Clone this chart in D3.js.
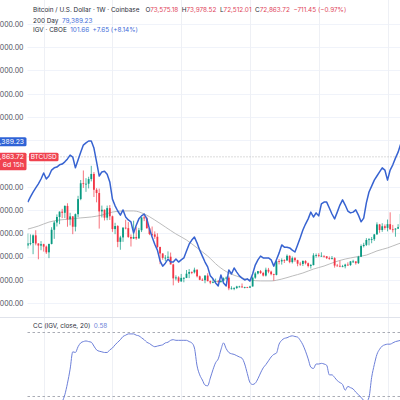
<!DOCTYPE html>
<html>
<head>
<meta charset="utf-8">
<script src="https://cdn.jsdelivr.net/npm/d3@7"></script>
<style>
  body { margin: 0; background: #fff; }
  svg { display: block; font-family: Inter, "Noto Sans", sans-serif; }
</style>
</head>
<body>
<div id="chart"></div>
<script>
// Weekly bars, first Monday 2021-05-24 .. 2024-02-05
var weeks = d3.timeMonday.range(new Date(2021, 4, 24), new Date(2024, 1, 6));

// BTCUSD weekly OHLC (Coinbase)
var btcOpen = [
  34700,35700,35800,39100,35600,34700,35300,34250,31800,35400,41500,44600,47000,49300,48800,51750,46000,47250,42800,48200,54700,61500,61300,61300,63300,65500,58700,57300,49400,50100,46700,50800,
  47300,41800,43100,36300,38200,42400,42200,38400,37700,38400,37800,41300,46800,46400,42200,39700,39500,38500,34100,31300,29400,29500,29900,26600,20600,21000,19300,20800,20800,22600,23300,23200,24300,21500,20000,19800,21800,19400,18800,19050,19400,19100,19600,20600,20900,16300,16300,16450,17100,17100,16800,16840,
  16600,17100,20900,22700,23700,22900,21800,24300,23500,22400,22100,28000,27900,28450,28300,30300,27600,29300,28400,26900,26800,28100,27100,25900,26300,30500,30600,30300,30300,30100,29300,29000,29300,26100,26000,25800,25800,26500,26300,27900,27900,27150,29900,34500,35000,37100,37400,37450,39500,43800,41400,43000,
  42300,43900,41700,41600,42000,42600];
var btcHigh = [
  39900,39500,39500,41300,35700,36600,35500,34700,35500,42600,45300,48100,49400,50500,52000,52900,48800,47400,48500,56100,62900,67000,63700,64300,69000,66300,59400,59200,51900,50200,51900,52100,
  47600,44500,43500,38900,42600,45800,44800,39500,45400,42600,42300,46900,48200,47100,42400,42900,40800,40000,34200,31400,30600,32200,31700,26900,21900,21500,22500,21100,24200,24600,23600,25200,24500,21800,20600,21900,22800,19700,20400,20500,19900,19700,21000,21400,21500,17200,16800,17400,17400,18400,17000,16950,
  17400,21400,23400,23800,24200,23400,25200,25100,23900,22600,28400,28900,29200,28800,30900,30500,30000,29800,28600,27700,28300,28400,27400,26800,31400,31300,31400,31800,30400,30100,30000,30200,29700,26800,28200,26400,26900,27500,28000,28600,27900,30300,35200,35900,37900,37900,38400,39700,44700,44000,44300,43800,
  45900,49000,43600,42200,43900,48500];
var btcLow = [
  33400,34800,31000,34800,28800,32700,32100,31100,29300,35200,37600,42900,43900,46500,46500,42800,43400,39600,40800,46900,54200,59500,57800,59300,62300,55600,53300,42000,46800,45500,45600,45700,
  40600,39600,34000,32900,36300,41700,38000,34300,37500,37200,37600,40500,45200,41900,39200,38600,37600,33700,26700,28600,28000,29300,26600,17600,19700,18600,19100,18900,20700,20700,22400,22700,21000,19800,19500,18500,19300,18100,18500,19000,18200,18700,19200,20100,15500,15800,15500,16000,16700,16500,16300,16400,
  16500,17100,20400,22300,22500,21400,21400,22800,21900,19600,21900,26600,26500,27200,28200,27100,27000,27700,25800,26000,25900,26600,25300,24800,26200,29500,29700,29900,29500,28900,28600,28700,25200,25800,25400,25400,24900,26000,26000,27200,26500,26800,29800,33900,34500,34800,35700,36700,39400,40200,40600,41500,
  40800,41500,40300,38500,41800,42300];
var btcClose = [
  35700,35800,39100,35600,34700,35300,34250,31800,35400,41500,44600,47000,49300,48800,51750,46000,47250,42800,48200,54700,61500,61300,61300,63300,65500,58700,57300,49400,50100,46700,50800,47300,
  41800,43100,36300,38200,42400,42200,38400,37700,38400,37800,41300,46800,46400,42200,39700,39500,38500,34100,31300,29400,29500,29900,26600,20600,21000,19300,20800,20800,22600,23300,23200,24300,21500,20000,19800,21800,19400,18800,19050,19400,19100,19600,20600,20900,16300,16300,16450,17100,17100,16800,16840,16600,
  17100,20900,22700,23700,22900,21800,24300,23500,22400,22100,28000,27900,28450,28300,30300,27600,29300,28400,26900,26800,28100,27100,25900,26300,30500,30600,30300,30300,30100,29300,29000,29300,26100,26000,25800,25800,26500,26300,27900,27900,27150,29900,34500,35000,37100,37400,37450,39500,43800,41400,43000,42300,
  43900,41700,41600,42000,42600,48300];

// 200 Day MA, read at every 4th bar
var maBar = [0,4,8,12,16,20,24,28,32,36,40,44,48,52,56,60,64,68,72,76,80,84,88,92,96,100,104,108,112,116,120,124,128,132,136,140,141];
var maValue = [41800,43100,44800,45700,46100,46600,47000,47800,49100,49600,49600,48300,45700,42700,39700,37100,33700,30200,25900,22900,21200,19900,19500,19500,20300,21600,22900,24600,25900,27600,28900,29800,30600,32400,33700,35400,35800];

// IGV weekly close (own overlay scale)
var igvClose = [
  71.6,73.0,74.3,75.4,76.5,77.8,79.4,77.8,78.6,80.2,80.8,81.0,81.6,81.8,82.4,83.2,84.2,83.7,80.8,82.9,
  85.0,86.9,87.5,88.0,88.0,86.1,82.4,78.6,79.7,79.9,79.1,77.0,72.4,70.6,69.2,68.1,69.5,67.6,66.8,66.3,
  63.3,65.4,67.1,67.9,68.4,67.1,64.4,62.2,60.3,58.7,55.8,54.4,55.2,56.3,55.5,55.5,56.3,55.5,56.1,56.6,
  58.5,60.3,61.4,62.2,60.6,58.7,57.1,55.5,54.2,51.8,51.0,49.9,49.1,52.0,49.9,49.1,53.4,52.3,53.9,52.8,
  51.8,51.2,50.7,51.0,50.4,52.3,54.7,56.1,57.1,56.6,56.6,56.6,56.1,54.4,56.1,57.9,60.1,59.5,59.5,59.3,
  58.7,58.2,60.1,62.0,64.1,65.7,67.1,68.9,67.6,68.7,67.9,71.1,71.6,71.6,70.0,68.4,67.1,68.9,70.8,72.2,
  70.8,69.2,68.7,68.9,69.5,68.1,66.3,67.3,71.4,74.3,75.9,77.5,78.6,79.7,80.8,80.2,77.5,80.2,81.6,83.4,
  85.0,87.2];

// CC (IGV, close, 20), starting at bar 13
var ccFirstBar = 13;
var ccValue = [
  -0.09,0.02,0.20,0.42,0.69,0.68,0.77,0.83,0.85,0.86,
  0.85,0.84,0.78,0.72,0.70,0.69,0.68,0.68,0.72,0.75,
  0.80,0.84,0.88,0.93,0.95,0.97,0.97,0.97,0.95,0.94,
  0.91,0.88,0.84,0.82,0.79,0.77,0.78,0.79,0.80,0.83,
  0.84,0.87,0.88,0.87,0.87,0.87,0.87,0.87,0.85,0.83,
  0.75,0.47,0.33,0.25,0.17,0.16,0.28,0.41,0.52,0.58,
  0.72,0.83,0.74,0.68,0.66,0.65,0.63,0.61,0.59,0.50,
  0.35,0.21,0.18,0.20,0.27,0.36,0.44,0.49,0.55,0.61,
  0.65,0.67,0.81,0.87,0.90,0.91,0.93,0.94,0.93,0.92,
  0.87,0.80,0.70,0.58,0.45,0.43,0.50,0.50,0.51,0.50,
  0.48,0.33,0.33,0.29,0.24,0.21,0.18,0.09,0.15,0.13,
  0.11,0.06,0.02,-0.02,-0.07,-0.09,-0.02,0.29,0.49,0.65,
  0.73,0.78,0.80,0.81,0.81,0.83,0.85,0.86,0.87];

// 70k and 80k sit under the price labels, so they are not shown
var priceTicks = [10000,20000,30000,40000,50000,60000,90000,100000,110000,120000,130000];
var gridTicks = [10000,20000,30000,40000,50000,60000,70000,80000,90000,100000,110000,120000,130000];
var lastClose = 72863.72;
var maLast = 79389.23;

// Sizes
var width = 400, height = 400;
var axisRight = 23.5;        // right edge of price labels
var plotLeft = 27.5;
var paneBottom = 317;
var barStep = 2.645;

var svg = d3.select("#chart").append("svg")
    .attr("width", width)
    .attr("height", height);

var defs = svg.append("defs");
defs.append("clipPath").attr("id", "mainClip")
  .append("rect").attr("x", plotLeft).attr("y", 0).attr("width", width - plotLeft).attr("height", paneBottom);
defs.append("clipPath").attr("id", "ccClip")
  .append("rect").attr("x", plotLeft).attr("y", paneBottom + 1).attr("width", width - plotLeft).attr("height", height - paneBottom);

var n = btcClose.length;
var bars = weeks.slice(0, n);

// Scales
var x = d3.scaleTime()
    .domain([bars[0], bars[n - 1]])
    .range([27.8, 27.8 + (n - 1) * barStep]);
var y = d3.scaleLinear().domain([10000, 130000]).range([303, 24]);
var yIgv = d3.scaleLinear().domain([48, 88]).range([290, 141]);
var yCc = d3.scaleLinear().domain([0, 1]).range([396, 332]);

// Grid: price levels
svg.append("g").selectAll("line")
  .data(gridTicks)
  .join("line")
    .attr("x1", plotLeft).attr("x2", width)
    .attr("y1", d => Math.round(y(d)) + 0.5).attr("y2", d => Math.round(y(d)) + 0.5)
    .attr("stroke", "#f0f3fa");

// Grid: first bar of January / July
var gridBars = bars.filter((d, i) => i > 0 && (d.getMonth() !== bars[i - 1].getMonth()) && (d.getMonth() === 0 || d.getMonth() === 6));
svg.append("g").selectAll("line")
  .data(gridBars)
  .join("line")
    .attr("x1", d => Math.round(x(d)) + 0.5).attr("x2", d => Math.round(x(d)) + 0.5)
    .attr("y1", 0).attr("y2", height)
    .attr("stroke", "#eef0f5");

// Price axis labels (left, mostly cut off by the frame)
svg.append("g")
    .attr("transform", "translate(" + axisRight + ",0)")
    .call(d3.axisLeft(y).tickValues(priceTicks).tickSize(0).tickPadding(0).tickFormat(d3.format(",.2f")))
    .call(g => g.select(".domain").remove())
    .call(g => g.selectAll("text")
        .attr("fill", "#50535e")
        .style("font-size", "7px")
        .style("font-family", "Inter, 'Noto Sans', sans-serif"));

// Main pane
var main = svg.append("g").attr("clip-path", "url(#mainClip)");

// Last price dotted line
main.append("line")
    .attr("x1", plotLeft).attr("x2", width)
    .attr("y1", y(lastClose)).attr("y2", y(lastClose))
    .attr("stroke", "#b8b8b8")
    .attr("stroke-dasharray", "1,2");

// 200 Day MA
main.append("path")
    .datum(maBar)
    .attr("fill", "none")
    .attr("stroke", "#b4b4b4")
    .attr("stroke-width", 0.9)
    .attr("d", d3.line()
        .curve(d3.curveMonotoneX)
        .x(b => x(bars[b]))
        .y((b, i) => y(maValue[i])));

// Candles
var candle = main.append("g").selectAll("g")
  .data(d3.range(n))
  .join("g")
    .attr("fill", i => btcClose[i] >= btcOpen[i] ? "#089981" : "#f23645")
    .attr("stroke", i => btcClose[i] >= btcOpen[i] ? "#089981" : "#f23645");

candle.append("line")
    .attr("x1", i => x(bars[i])).attr("x2", i => x(bars[i]))
    .attr("y1", i => y(btcHigh[i])).attr("y2", i => y(btcLow[i]))
    .attr("stroke-width", 0.7);

candle.append("rect")
    .attr("stroke", "none")
    .attr("x", i => x(bars[i]) - 0.9)
    .attr("width", 1.8)
    .attr("y", i => y(Math.max(btcOpen[i], btcClose[i])))
    .attr("height", i => Math.max(0.8, Math.abs(y(btcOpen[i]) - y(btcClose[i]))));

// IGV overlay
main.append("path")
    .datum(igvClose)
    .attr("fill", "none")
    .attr("stroke", "#3763d1")
    .attr("stroke-width", 1.5)
    .attr("stroke-linejoin", "round")
    .attr("d", d3.line()
        .x((d, i) => x(bars[i]))
        .y(d => yIgv(d)));

// Price scale labels
var maLabel = svg.append("g").attr("transform", "translate(0," + y(maLast) + ")");
maLabel.append("rect")
    .attr("x", -2).attr("y", -4.3).attr("width", plotLeft + 1).attr("height", 8.8)
    .attr("rx", 1.5)
    .attr("fill", "#2f63d6");
maLabel.append("text")
    .attr("x", axisRight + 0.5).attr("y", 2.4)
    .attr("text-anchor", "end")
    .attr("fill", "#fff")
    .style("font-size", "6.8px")
    .text(d3.format(",.2f")(maLast));

var lastLabel = svg.append("g").attr("transform", "translate(0," + y(lastClose) + ")");
lastLabel.append("rect")
    .attr("x", -2).attr("y", -4.1).attr("width", plotLeft + 1).attr("height", 17.4)
    .attr("rx", 1.5)
    .attr("fill", "#f0424f");
lastLabel.append("text")
    .attr("x", axisRight + 0.5).attr("y", 2.4)
    .attr("text-anchor", "end")
    .attr("fill", "#fff")
    .style("font-size", "6.8px")
    .text(d3.format(",.2f")(lastClose));
lastLabel.append("text")
    .attr("x", axisRight + 0.5).attr("y", 10.6)
    .attr("text-anchor", "end")
    .attr("fill", "#fff")
    .style("font-size", "6.8px")
    .text("6d 15h");
lastLabel.append("rect")
    .attr("x", 29).attr("y", -4.1).attr("width", 29.5).attr("height", 8.6)
    .attr("rx", 1.5)
    .attr("fill", "#f0424f");
lastLabel.append("text")
    .attr("x", 43.7).attr("y", 2.3)
    .attr("text-anchor", "middle")
    .attr("fill", "#fff")
    .style("font-size", "6.4px")
    .text("BTCUSD");

// Legend
var legend = svg.append("g").style("font-size", "6.4px");
var l1 = legend.append("text").attr("x", 33).attr("y", 12.3).attr("fill", "#2a2e39");
l1.append("tspan").text("Bitcoin / U.S. Dollar · 1W · Coinbase");
[["O", "73,575.18"], ["H", "73,978.52"], ["L", "72,512.01"], ["C", "72,863.72"]].forEach(function (p, k) {
  l1.append("tspan").attr("dx", k === 0 ? 6 : 3.5).attr("fill", "#2a2e39").text(p[0]);
  l1.append("tspan").attr("fill", "#e0455a").text(p[1]);
});
l1.append("tspan").attr("dx", 3.5).attr("fill", "#e0455a").text("−711.45 (−0.97%)");

var l2 = legend.append("text").attr("x", 33).attr("y", 22.5).attr("fill", "#2a2e39");
l2.append("tspan").text("200 Day");
l2.append("tspan").attr("dx", 3.5).attr("fill", "#3e6bd8").text("79,389.23");

var l3 = legend.append("text").attr("x", 33).attr("y", 32.3).attr("fill", "#2a2e39");
l3.append("tspan").text("IGV · CBOE");
l3.append("tspan").attr("dx", 3.5).attr("fill", "#3e6bd8").text("101.66");
l3.append("tspan").attr("dx", 3.5).attr("fill", "#3e6bd8").text("+7.65 (+8.14%)");

// Pane separator
svg.append("line")
    .attr("x1", 0).attr("x2", width)
    .attr("y1", paneBottom + 0.5).attr("y2", paneBottom + 0.5)
    .attr("stroke", "#e0e3eb");

// CC pane
svg.append("g").selectAll("line")
  .data([1, 0])
  .join("line")
    .attr("x1", plotLeft).attr("x2", width)
    .attr("y1", d => Math.round(yCc(d)) + 0.5).attr("y2", d => Math.round(yCc(d)) + 0.5)
    .attr("stroke", "#a9acb5")
    .attr("stroke-dasharray", "2.5,2.5");

svg.append("path")
    .datum(ccValue)
    .attr("clip-path", "url(#ccClip)")
    .attr("fill", "none")
    .attr("stroke", "#6c7fd8")
    .attr("stroke-width", 1)
    .attr("d", d3.line()
        .curve(d3.curveMonotoneX)
        .x((d, i) => x(bars[ccFirstBar + i]))
        .y(d => yCc(d)));

var l4 = svg.append("text").attr("x", 33).attr("y", 327.5).attr("fill", "#2a2e39").style("font-size", "6.4px");
l4.append("tspan").text("CC (IGV, close, 20)");
l4.append("tspan").attr("dx", 3.5).attr("fill", "#6c7fd8").text("0.58");
</script>
</body>
</html>
